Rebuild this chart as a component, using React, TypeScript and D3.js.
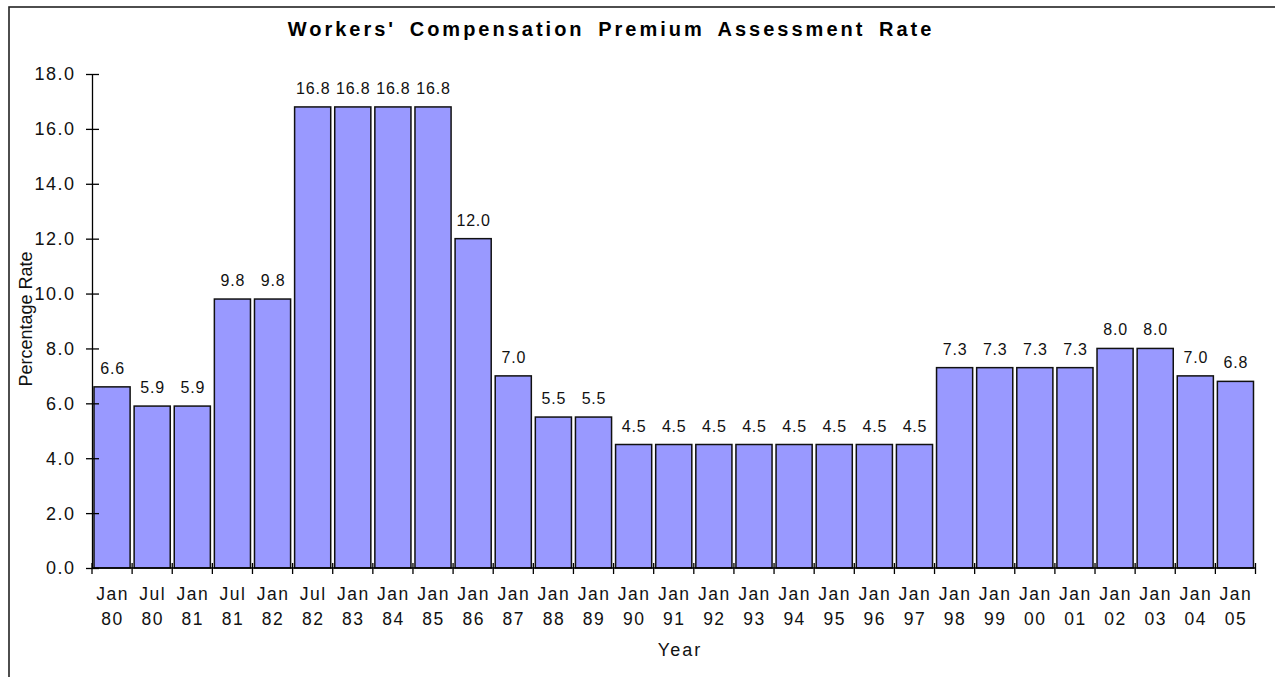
import React, { useEffect, useRef } from "react";
import * as d3 from "d3";

// x-axis categories, split across two label rows
const monthList = [
  "Jan", "Jul", "Jan", "Jul", "Jan", "Jul", "Jan", "Jan", "Jan", "Jan", "Jan",
  "Jan", "Jan", "Jan", "Jan", "Jan", "Jan", "Jan", "Jan", "Jan", "Jan", "Jan",
  "Jan", "Jan", "Jan", "Jan", "Jan", "Jan", "Jan",
];
const yearList = [
  "80", "80", "81", "81", "82", "82", "83", "84", "85", "86", "87",
  "88", "89", "90", "91", "92", "93", "94", "95", "96", "97", "98",
  "99", "00", "01", "02", "03", "04", "05",
];
const rates = [
  6.6, 5.9, 5.9, 9.8, 9.8, 16.8, 16.8, 16.8, 16.8, 12.0, 7.0,
  5.5, 5.5, 4.5, 4.5, 4.5, 4.5, 4.5, 4.5, 4.5, 4.5, 7.3,
  7.3, 7.3, 7.3, 8.0, 8.0, 7.0, 6.8,
];
const yTicks = [0, 2, 4, 6, 8, 10, 12, 14, 16, 18];

const width = 1275;
const height = 677;
const font = "'Liberation Sans', Arial, sans-serif";
const left = 92;
const right = 1255.5;

export default function App() {
  const svgRef = useRef<SVGSVGElement>(null);

  useEffect(() => {
    const svg = d3.select(svgRef.current);
    svg.selectAll("*").remove();

    const x = d3
      .scaleBand()
      .domain(d3.range(rates.length).map(String))
      .range([left, right])
      .paddingInner(0.1)
      .paddingOuter(0.05);
    const y = d3.scaleLinear().domain([0, 18]).range([568, 74]);

    // outer frame
    svg
      .append("rect")
      .attr("x", 9)
      .attr("y", 7)
      .attr("width", width + 20)
      .attr("height", height + 20)
      .attr("fill", "white")
      .attr("stroke", "#222")
      .attr("stroke-width", 1.6);

    // title
    svg
      .append("text")
      .attr("x", 611)
      .attr("y", 36)
      .attr("text-anchor", "middle")
      .style("font-family", font)
      .style("font-size", "20px")
      .style("font-weight", "bold")
      .style("letter-spacing", "3px")
      .style("word-spacing", "5px")
      .text("Workers' Compensation Premium Assessment Rate");

    // bars
    svg
      .append("g")
      .selectAll("rect")
      .data(rates)
      .join("rect")
      .attr("x", (d, i) => x(String(i)))
      .attr("y", (d) => y(d))
      .attr("width", x.bandwidth())
      .attr("height", (d) => y(0) - y(d))
      .attr("fill", "#9999ff")
      .attr("stroke", "#111")
      .attr("stroke-width", 1.5);

    // value labels
    svg
      .append("g")
      .selectAll("text")
      .data(rates)
      .join("text")
      .attr("x", (d, i) => x(String(i)) + x.bandwidth() / 2 + 0.5)
      .attr("y", (d) => y(d) - 13)
      .attr("text-anchor", "middle")
      .style("font-family", font)
      .style("font-size", "16px")
      .style("letter-spacing", "0.8px")
      .attr("fill", "#111")
      .text((d) => d.toFixed(1));

    // y axis
    const yAxis = svg
      .append("g")
      .attr("transform", `translate(${left},0)`)
      .call(
        d3
          .axisLeft(y)
          .tickValues(yTicks)
          .tickFormat((d) => (d as number).toFixed(1))
          .tickSize(6)
          .tickSizeOuter(0),
      );
    yAxis.select(".domain").attr("stroke", "#000").attr("stroke-width", 1.3);
    yAxis
      .selectAll(".tick line")
      .attr("x1", 7)
      .attr("x2", -6)
      .attr("stroke", "#000")
      .attr("stroke-width", 1.3);
    yAxis
      .selectAll(".tick text")
      .attr("x", -16.5)
      .attr("dy", "0.33em")
      .style("font-family", font)
      .style("font-size", "18px")
      .style("letter-spacing", "1.5px")
      .attr("fill", "#111");

    // x axis
    const xAxis = svg.append("g");
    xAxis
      .append("line")
      .attr("x1", left)
      .attr("x2", right)
      .attr("y1", y(0))
      .attr("y2", y(0))
      .attr("stroke", "#000")
      .attr("stroke-width", 1.3);
    const edges = d3
      .range(rates.length + 1)
      .map((i) => left + i * ((right - left) / rates.length));
    xAxis
      .selectAll("line.tk")
      .data(edges)
      .join("line")
      .attr("class", "tk")
      .attr("x1", (d) => d)
      .attr("x2", (d) => d)
      .attr("y1", y(0) - 5)
      .attr("y2", y(0) + 6)
      .attr("stroke", "#000")
      .attr("stroke-width", 1.3);
    const lbl = xAxis
      .selectAll("g.lbl")
      .data(rates)
      .join("g")
      .attr("class", "lbl")
      .attr("transform", (d, i) => `translate(${x(String(i)) + x.bandwidth() / 2 + 0.5},0)`);
    lbl
      .append("text")
      .attr("y", 600)
      .attr("text-anchor", "middle")
      .style("font-family", font)
      .style("font-size", "17.5px")
      .style("letter-spacing", "1.5px")
      .attr("fill", "#111")
      .text((d, i) => monthList[i]);
    lbl
      .append("text")
      .attr("y", 625)
      .attr("text-anchor", "middle")
      .style("font-family", font)
      .style("font-size", "17.5px")
      .style("letter-spacing", "1.5px")
      .attr("fill", "#111")
      .text((d, i) => yearList[i]);

    // axis titles
    svg
      .append("text")
      .attr("x", 680)
      .attr("y", 656)
      .attr("text-anchor", "middle")
      .style("font-family", font)
      .style("font-size", "18px")
      .style("letter-spacing", "2px")
      .attr("fill", "#111")
      .text("Year");
    svg
      .append("text")
      .attr("transform", "translate(32,319) rotate(-90)")
      .attr("text-anchor", "middle")
      .style("font-family", font)
      .style("font-size", "18px")
      .attr("fill", "#111")
      .text("Percentage Rate");
  }, []);

  return (
    <svg
      ref={svgRef}
      width={width}
      height={height}
      style={{ position: "absolute", left: 0, top: 0, background: "white" }}
    />
  );
}
